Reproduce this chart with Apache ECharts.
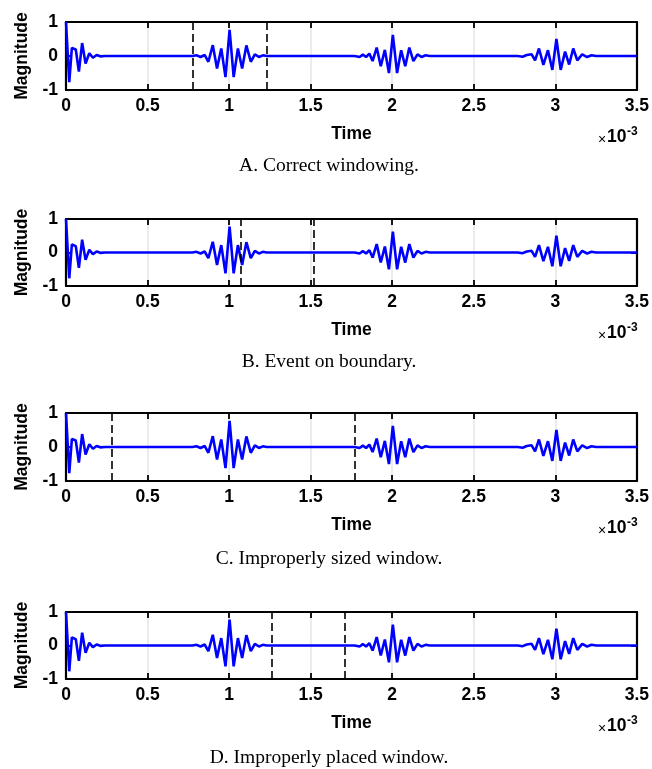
<!DOCTYPE html>
<html>
<head>
<meta charset="utf-8">
<script src="https://cdn.jsdelivr.net/npm/echarts@6/dist/echarts.min.js"></script>
<style>
  html, body { margin: 0; padding: 0; background: #fff; }
  #chart { width: 652px; height: 769px; }
</style>
</head>
<body>
<div id="chart"></div>
<script>
// time axis is in units of 1e-3 (the x10^-3 is drawn as a separate label)
const burst0Time = [0, 0.02, 0.036, 0.046, 0.06, 0.079, 0.099, 0.12, 0.143, 0.165, 0.188, 0.21, 0.24]
const burst0Mag = [1.0, -0.77, 0.24, 0.25, 0.19, -0.46, 0.38, -0.22, 0.08, -0.05, 0.03, -0.01, 0]

const burst1Time = [0.775, 0.80, 0.825, 0.85, 0.873, 0.90, 0.926, 0.952, 0.978, 1.003, 1.028, 1.054, 1.08, 1.106, 1.133, 1.158, 1.183, 1.207, 1.23]
const burst1Mag = [0, 0.02, -0.03, 0.03, -0.17, 0.32, -0.37, 0.22, -0.62, 0.77, -0.62, 0.22, -0.37, 0.31, -0.17, 0.05, -0.03, 0.02, 0]

const burst2Time = [1.77, 1.80, 1.82, 1.84, 1.86, 1.88, 1.905, 1.93, 1.955, 1.98, 2.004, 2.03, 2.055, 2.08, 2.105, 2.13, 2.155, 2.18, 2.205, 2.23]
const burst2Mag = [0, -0.03, 0.04, -0.03, 0.07, -0.15, 0.25, -0.3, 0.18, -0.5, 0.62, -0.5, 0.17, -0.3, 0.25, -0.15, 0.05, -0.03, 0.02, 0]

const burst3Time = [2.77, 2.80, 2.825, 2.855, 2.876, 2.9, 2.927, 2.955, 2.982, 3.007, 3.033, 3.06, 3.085, 3.11, 3.135, 3.165, 3.195, 3.222, 3.25, 3.5]
const burst3Mag = [0, -0.02, 0.03, 0.05, -0.13, 0.22, -0.26, 0.17, -0.41, 0.5, -0.41, 0.13, -0.25, 0.22, -0.13, 0.05, -0.03, 0.02, 0, 0]

// dashed window edges for each panel
const windowA = [0.78, 1.23]
const windowB = [1.075, 1.52]
const windowC = [0.28, 1.77]
const windowD = [1.26, 1.71]

const captions = ['A. Correct windowing.', 'B. Event on boundary.', 'C. Improperly sized window.', 'D. Improperly placed window.']

const xTicks = { min: 0, max: 3.5, interval: 0.5 }
const yTicks = { min: -1, max: 1, interval: 1 }

const signal = []
;[[burst0Time, burst0Mag], [burst1Time, burst1Mag], [burst2Time, burst2Mag], [burst3Time, burst3Mag]].forEach(([ts, vs]) => {
  ts.forEach((t, i) => signal.push([t, vs[i]]))
})

const panels = [
  { top: 22, height: 68, win: windowA, capY: 166 },
  { top: 219, height: 67, win: windowB, capY: 362 },
  { top: 413, height: 68, win: windowC, capY: 559 },
  { top: 612, height: 67, win: windowD, capY: 758 }
]

const sans = 'Liberation Sans'
const labelStyle = { fontFamily: sans, fontWeight: 'bold', fontSize: 17.5, color: '#000' }
const black = { color: '#000', width: 2.2 }
const tick = { inside: true, length: 6, lineStyle: { color: '#000', width: 1.8 } }

const chart = echarts.init(document.getElementById('chart'))

const grid = [], xAxis = [], yAxis = [], series = [], graphic = []

panels.forEach((p, i) => {
  grid.push({ left: 66, top: p.top, width: 572, height: p.height })
  const bottom = p.top + p.height

  xAxis.push({
    type: 'value', gridIndex: i, ...xTicks,
    axisLine: { onZero: false, lineStyle: black },
    axisTick: tick,
    axisLabel: { ...labelStyle, margin: 7, showMaxLabel: true, showMinLabel: true },
    splitLine: { show: true, lineStyle: { color: '#e6e6e6', width: 1.5 } },
    name: 'Time', nameLocation: 'middle', nameGap: 35,
    nameTextStyle: labelStyle
  })
  xAxis.push({
    type: 'value', gridIndex: i, position: 'top', ...xTicks,
    axisLine: { onZero: false, lineStyle: black },
    axisTick: tick,
    axisLabel: { show: false },
    splitLine: { show: false }
  })
  yAxis.push({
    type: 'value', gridIndex: i, ...yTicks,
    axisLine: { onZero: false, lineStyle: black },
    axisTick: tick,
    axisLabel: { ...labelStyle, margin: 8 },
    splitLine: { show: false },
    name: 'Magnitude', nameLocation: 'middle', nameGap: 35,
    nameTextStyle: labelStyle
  })
  yAxis.push({
    type: 'value', gridIndex: i, position: 'right', ...yTicks,
    axisLine: { onZero: false, lineStyle: black },
    axisTick: tick,
    axisLabel: { show: false },
    splitLine: { show: false }
  })

  series.push({
    type: 'line',
    xAxisIndex: i * 2,
    yAxisIndex: i * 2,
    data: signal,
    showSymbol: false,
    lineStyle: { color: '#0000ff', width: 2.6 },
    markLine: {
      silent: true,
      symbol: ['none', 'none'],
      label: { show: false },
      lineStyle: { color: '#000', type: [8, 4], width: 1.6 },
      data: p.win.map(x => ({ xAxis: x }))
    }
  })

  // x10^-3 exponent label
  graphic.push(
    { type: 'text', x: 598, y: bottom + 50, style: { text: '×', font: '14px "Liberation Sans"', fill: '#000', verticalAlign: 'middle' } },
    { type: 'text', x: 607, y: bottom + 47.5, style: { text: '10', font: 'bold 17.5px "Liberation Sans"', fill: '#000', verticalAlign: 'middle' } },
    { type: 'text', x: 627, y: bottom + 42, style: { text: '-3', font: 'bold 12px "Liberation Sans"', fill: '#000', verticalAlign: 'middle' } },
    { type: 'text', x: 329, y: p.capY, style: { text: captions[i], font: '19.5px "Liberation Serif"', fill: '#000', align: 'center', verticalAlign: 'middle' } }
  )
})

chart.setOption({
  animation: false,
  backgroundColor: '#fff',
  grid, xAxis, yAxis, series, graphic
})
</script>
</body>
</html>
